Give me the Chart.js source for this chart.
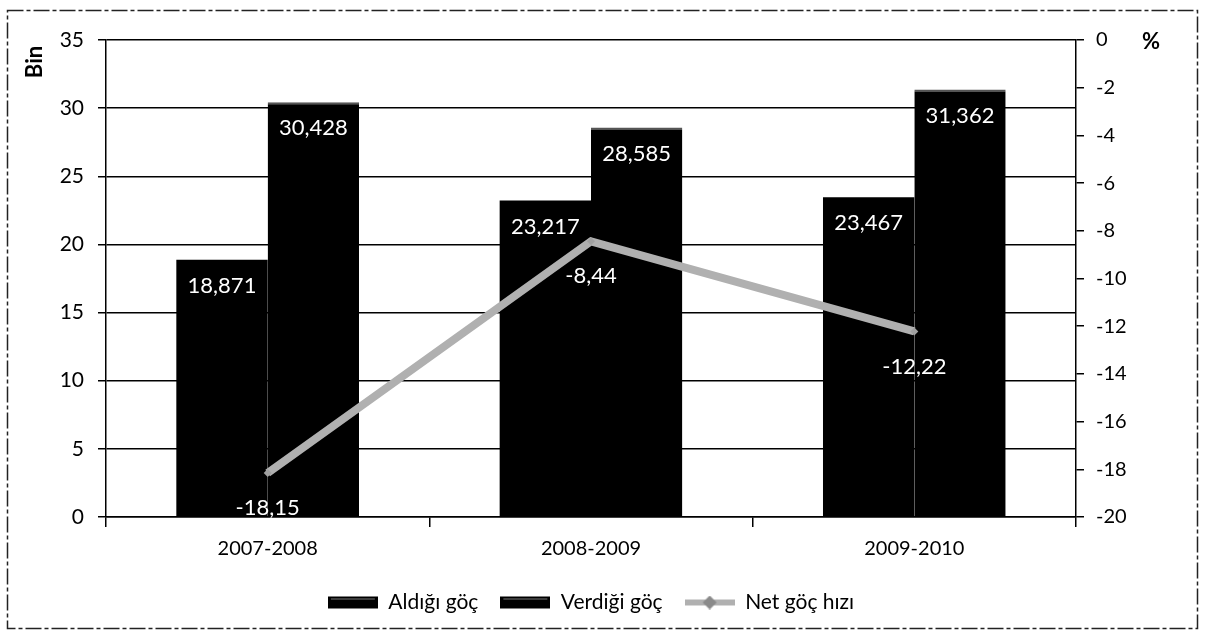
<!DOCTYPE html>
<html>
<head>
<meta charset="utf-8">
<script src="https://cdn.jsdelivr.net/npm/chart.js@4/dist/chart.umd.min.js"></script>
<style>
html,body{margin:0;padding:0;background:#fff;}
#wrap{position:relative;width:1222px;height:640px;}
</style>
</head>
<body>
<div id="wrap"><canvas id="c" width="1222" height="640"></canvas></div>
<script>
const categories = ['2007-2008', '2008-2009', '2009-2010'];
const aldigiGoc = [18.871, 23.217, 23.467];
const verdigiGoc = [30.428, 28.585, 31.362];
const netGocHizi = [-18.15, -8.44, -12.22];
const seriesNames = ['Aldığı göç', 'Verdiği göç', 'Net göç hızı'];
const leftAxisTitle = 'Bin';
const rightAxisTitle = '%';

const FONT = 'Lato, "Liberation Sans", sans-serif';
const LINE_GRAY = '#b0b0b0';

function fmt(v, d) { return v.toFixed(d).replace('.', ','); }

function legendIcon(kind) {
  const c = document.createElement('canvas');
  c.width = 50; c.height = 14;
  const g = c.getContext('2d');
  if (kind === 'bar') {
    g.fillStyle = '#000';
    g.fillRect(0, 1, 50, 12);
    g.fillStyle = '#777';
    g.fillRect(3, 3, 44, 1);
  } else {
    g.strokeStyle = LINE_GRAY;
    g.lineWidth = 6;
    g.beginPath(); g.moveTo(0, 7); g.lineTo(50, 7); g.stroke();
    g.fillStyle = '#8a8a8a';
    g.beginPath(); g.moveTo(25, 0); g.lineTo(32, 7); g.lineTo(25, 14); g.lineTo(18, 7); g.closePath(); g.fill();
  }
  return c;
}

const extras = {
  id: 'extras',
  beforeDraw(chart) {
    const ctx = chart.ctx;
    ctx.save();
    ctx.fillStyle = '#fff';
    ctx.fillRect(0, 0, chart.width, chart.height);
    ctx.strokeStyle = '#222';
    ctx.lineWidth = 1.5;
    ctx.setLineDash([16, 3, 4, 3]);
    ctx.strokeRect(7.5, 10.5, 1190, 618);
    ctx.restore();
  },
  afterDatasetsDraw(chart) {
    const ctx = chart.ctx;
    ctx.save();
    ctx.font = '22px ' + FONT;
    ctx.textAlign = 'center';
    ctx.textBaseline = 'middle';
    ctx.fillStyle = '#fff';
    chart.data.datasets.forEach((ds, i) => {
      const meta = chart.getDatasetMeta(i);
      meta.data.forEach((el, j) => {
        const v = ds.data[j];
        if (ds.type === 'line') {
          ctx.fillText(fmt(v, 2), el.x, el.y + 35);
        } else {
          ctx.fillText(fmt(v, 3), el.x, el.y + 26);
        }
      });
    });
    ctx.fillStyle = '#000';
    ctx.font = 'bold 22px ' + FONT;
    ctx.save();
    ctx.translate(35, 62);
    ctx.rotate(-Math.PI / 2);
    ctx.fillText(leftAxisTitle, 0, 0);
    ctx.restore();
    ctx.fillText(rightAxisTitle, 1151, 42);
    ctx.restore();
  }
};

new Chart(document.getElementById('c'), {
  data: {
    labels: categories,
    datasets: [
      {
        type: 'line', label: seriesNames[2], data: netGocHizi, yAxisID: 'y1',
        borderColor: LINE_GRAY, backgroundColor: LINE_GRAY, borderWidth: 8,
        pointStyle: 'rectRot', pointRadius: 4, pointBackgroundColor: '#a0a0a0', pointBorderWidth: 0,
        tension: 0, order: 0
      },
      {
        type: 'bar', label: seriesNames[0], data: aldigiGoc, yAxisID: 'y',
        backgroundColor: '#000', borderColor: '#000', borderWidth: 0,
        barPercentage: 1, categoryPercentage: 0.565, order: 1
      },
      {
        type: 'bar', label: seriesNames[1], data: verdigiGoc, yAxisID: 'y',
        backgroundColor: '#000', borderColor: '#555', borderWidth: {top: 2, left: 0, right: 0, bottom: 0},
        borderSkipped: 'bottom',
        barPercentage: 1, categoryPercentage: 0.565, order: 1
      }
    ]
  },
  options: {
    responsive: false,
    animation: false,
    layout: { padding: { top: 40, left: 0, right: 40, bottom: 17 } },
    plugins: {
      tooltip: { enabled: false },
      legend: {
        position: 'bottom',
        labels: {
          font: { size: 21, family: FONT },
          color: '#000',
          usePointStyle: true,
          pointStyleWidth: 50,
          boxHeight: 14,
          padding: 22,
          generateLabels(chart) {
            return [
              { text: seriesNames[0], pointStyle: legendIcon('bar'), fillStyle: '#000', strokeStyle: '#000', lineWidth: 0, datasetIndex: 1, fontColor: '#000' },
              { text: seriesNames[1], pointStyle: legendIcon('bar'), fillStyle: '#000', strokeStyle: '#000', lineWidth: 0, datasetIndex: 2, fontColor: '#000' },
              { text: seriesNames[2], pointStyle: legendIcon('line'), fillStyle: LINE_GRAY, strokeStyle: LINE_GRAY, lineWidth: 0, datasetIndex: 0, fontColor: '#000' }
            ];
          }
        }
      }
    },
    scales: {
      x: {
        offset: true,
        grid: { offset: true, drawOnChartArea: false, drawTicks: true, tickLength: 10, color: '#000', lineWidth: 1.5 },
        border: { color: '#000', width: 1.5 },
        ticks: { font: { size: 20, family: FONT }, color: '#000', padding: 10 },
        afterFit(s) { s.height = 53; }
      },
      y: {
        position: 'left', min: 0, max: 35,
        ticks: { stepSize: 5, font: { size: 21, family: FONT }, color: '#000', padding: 14 },
        grid: { color: '#000', lineWidth: 1.5, tickLength: 8 },
        border: { color: '#000', width: 1.5 },
        afterFit(s) { s.width = 106; }
      },
      y1: {
        position: 'right', min: -20, max: 0,
        ticks: { stepSize: 2, font: { size: 20, family: FONT }, color: '#000', padding: 12 },
        grid: { drawOnChartArea: false, color: '#000', lineWidth: 1.5, tickLength: 8 },
        border: { color: '#000', width: 1.5 },
        afterFit(s) { s.width = 106; }
      }
    }
  },
  plugins: [extras]
});
</script>
</body>
</html>
